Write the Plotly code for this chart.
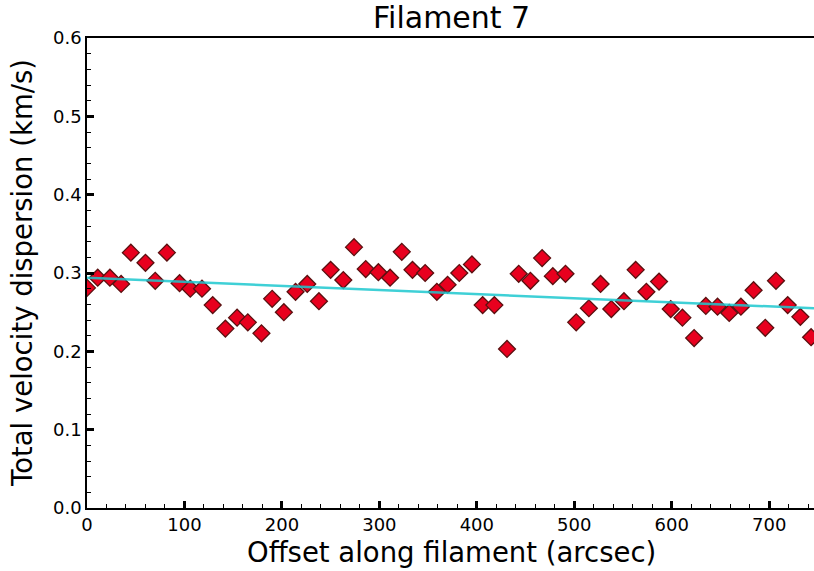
import plotly.graph_objects as go

offset = [0, 11, 23.5, 35, 45, 60, 70, 82, 95, 106, 118, 129, 142, 154, 165, 179, 190, 202,
          214, 226, 238, 250, 263, 274, 286, 299, 311, 323, 334, 347, 359, 370, 382, 395,
          406, 418, 431, 443, 455, 467, 478, 491, 502, 515, 527, 538, 551, 563, 574, 587,
          599, 611, 623, 635, 647, 659, 671, 684, 696, 707, 719, 732, 743]
dispersion = [0.281, 0.294, 0.294, 0.286, 0.326, 0.313, 0.290, 0.326, 0.287, 0.280, 0.280,
              0.259, 0.229, 0.243, 0.237, 0.223, 0.267, 0.250, 0.276, 0.286, 0.264, 0.304,
              0.291, 0.333, 0.305, 0.301, 0.294, 0.327, 0.304, 0.300, 0.276, 0.285, 0.300,
              0.311, 0.259, 0.259, 0.203, 0.299, 0.290, 0.319, 0.296, 0.299, 0.237, 0.255,
              0.286, 0.254, 0.264, 0.304, 0.276, 0.289, 0.254, 0.243, 0.217, 0.258, 0.257,
              0.249, 0.257, 0.278, 0.230, 0.290, 0.259, 0.244, 0.218]
fit_x = [0, 746]
fit_y = [0.294, 0.255]

fig = go.Figure()
fig.add_trace(go.Scatter(
    x=offset, y=dispersion, mode="markers",
    marker=dict(symbol="diamond", size=13, color="#e8001e",
                line=dict(color="#5a1010", width=1.3)),
    showlegend=False, cliponaxis=True))
fig.add_trace(go.Scatter(
    x=fit_x, y=fit_y, mode="lines",
    line=dict(color="#1ec8d0", width=2.5), opacity=0.85, showlegend=False))

font = "DejaVu Sans, sans-serif"
fig.update_layout(
    width=814, height=571,
    margin=dict(l=87, r=0, t=38, b=63, autoexpand=False),
    plot_bgcolor="white", paper_bgcolor="white",
    font=dict(family=font, color="black"),
    annotations=[
        dict(text="Filament 7", xref="paper", yref="paper", x=0.502, y=1, yshift=1,
             xanchor="center", yanchor="bottom", showarrow=False,
             font=dict(size=30, family=font, color="black")),
        dict(text="Offset along filament (arcsec)", xref="paper", yref="paper", x=0.502, y=0,
             yshift=-44, xanchor="center", yanchor="middle", showarrow=False,
             font=dict(size=27.5, family=font, color="black")),
        dict(text="Total velocity dispersion (km/s)", xref="paper", yref="paper", x=0, y=0.5,
             xshift=-65, xanchor="center", yanchor="middle", textangle=-90, showarrow=False,
             font=dict(size=27.5, family=font, color="black")),
    ],
)
fig.update_xaxes(
    range=[0, 746], showgrid=False, zeroline=False, automargin=False,
    showline=True, linecolor="black", linewidth=1.5, mirror=True,
    ticks="inside", ticklen=7, tickwidth=2.5, tickcolor="black",
    tickmode="array", tickvals=[0, 100, 200, 300, 400, 500, 600, 700],
    tickfont=dict(size=18, family=font),
    minor=dict(ticks="inside", ticklen=4, tickwidth=1.3, tickcolor="black", dtick=20, showgrid=False),
)
fig.update_yaxes(
    range=[0, 0.6], showgrid=False, zeroline=False, automargin=False,
    showline=True, linecolor="black", linewidth=1.5,
    ticks="inside", ticklen=7, tickwidth=2.5, tickcolor="black",
    tickmode="array", tickvals=[0, 0.1, 0.2, 0.3, 0.4, 0.5, 0.6],
    ticktext=["0.0", "0.1", "0.2", "0.3", "0.4", "0.5", "0.6"],
    tickfont=dict(size=18, family=font),
    minor=dict(ticks="inside", ticklen=4, tickwidth=1.3, tickcolor="black", dtick=0.02, showgrid=False),
)

fig.write_html("out.html", config={"displayModeBar": False},
               post_script="document.body.style.margin='0';document.body.style.overflow='hidden';")
